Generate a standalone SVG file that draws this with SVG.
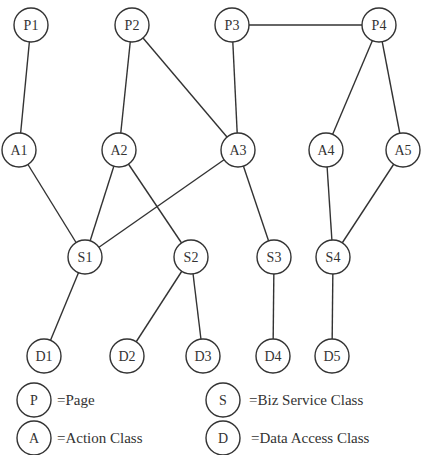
<svg xmlns="http://www.w3.org/2000/svg" width="423" height="455" viewBox="0 0 423 455">
<style>
.n circle{fill:#fff;stroke:#333;stroke-width:1.4}
.n text{font-family:"Liberation Serif",serif;font-size:14px;fill:#333;text-anchor:middle}
.e line{stroke:#333;stroke-width:1.4}
.lg{font-family:"Liberation Serif",serif;font-size:15px;fill:#333}
</style>
<rect width="423" height="455" fill="#fff"/>
<g id="connectors" class="e">
<line x1="31" y1="25" x2="19" y2="150"/>
<line x1="132" y1="25" x2="119" y2="150"/>
<line x1="132" y1="25" x2="238" y2="150"/>
<line x1="232" y1="25" x2="238" y2="150"/>
<line x1="232" y1="25" x2="379" y2="25"/>
<line x1="379" y1="25" x2="326" y2="150"/>
<line x1="379" y1="25" x2="403" y2="150"/>
<line x1="19" y1="150" x2="85" y2="257"/>
<line x1="119" y1="150" x2="85" y2="257"/>
<line x1="238" y1="150" x2="85" y2="257"/>
<line x1="119" y1="150" x2="191" y2="257"/>
<line x1="238" y1="150" x2="274" y2="257"/>
<line x1="326" y1="150" x2="333" y2="257"/>
<line x1="403" y1="150" x2="333" y2="257"/>
<line x1="85" y1="257" x2="44" y2="356"/>
<line x1="191" y1="257" x2="127" y2="356"/>
<line x1="191" y1="257" x2="203" y2="356"/>
<line x1="274" y1="257" x2="273" y2="356"/>
<line x1="333" y1="257" x2="332" y2="356"/>
</g>
<g id="P1" class="n"><circle cx="31" cy="25" r="17"/><text x="31" y="30">P1</text></g>
<g id="P2" class="n"><circle cx="132" cy="25" r="17"/><text x="132" y="30">P2</text></g>
<g id="P3" class="n"><circle cx="232" cy="25" r="17"/><text x="232" y="30">P3</text></g>
<g id="P4" class="n"><circle cx="379" cy="25" r="17"/><text x="379" y="30">P4</text></g>
<g id="A1" class="n"><circle cx="19" cy="150" r="17"/><text x="19" y="155">A1</text></g>
<g id="A2" class="n"><circle cx="119" cy="150" r="17"/><text x="119" y="155">A2</text></g>
<g id="A3" class="n"><circle cx="238" cy="150" r="17"/><text x="238" y="155">A3</text></g>
<g id="A4" class="n"><circle cx="326" cy="150" r="17"/><text x="326" y="155">A4</text></g>
<g id="A5" class="n"><circle cx="403" cy="150" r="17"/><text x="403" y="155">A5</text></g>
<g id="S1" class="n"><circle cx="85" cy="257" r="17"/><text x="85" y="262">S1</text></g>
<g id="S2" class="n"><circle cx="191" cy="257" r="17"/><text x="191" y="262">S2</text></g>
<g id="S3" class="n"><circle cx="274" cy="257" r="17"/><text x="274" y="262">S3</text></g>
<g id="S4" class="n"><circle cx="333" cy="257" r="17"/><text x="333" y="262">S4</text></g>
<g id="D1" class="n"><circle cx="44" cy="356" r="17"/><text x="44" y="361">D1</text></g>
<g id="D2" class="n"><circle cx="127" cy="356" r="17"/><text x="127" y="361">D2</text></g>
<g id="D3" class="n"><circle cx="203" cy="356" r="17"/><text x="203" y="361">D3</text></g>
<g id="D4" class="n"><circle cx="273" cy="356" r="17"/><text x="273" y="361">D4</text></g>
<g id="D5" class="n"><circle cx="332" cy="356" r="17"/><text x="332" y="361">D5</text></g>
<g id="legend-P" class="n"><circle cx="34" cy="400" r="17"/><text x="34" y="405">P</text></g>
<text class="lg" x="57" y="405">=Page</text>
<g id="legend-A" class="n"><circle cx="34" cy="438" r="17"/><text x="34" y="443">A</text></g>
<text class="lg" x="57" y="443">=Action Class</text>
<g id="legend-S" class="n"><circle cx="223" cy="400" r="17"/><text x="223" y="405">S</text></g>
<text class="lg" x="249" y="405">=Biz Service Class</text>
<g id="legend-D" class="n"><circle cx="223" cy="438" r="17"/><text x="223" y="443">D</text></g>
<text class="lg" x="251" y="443">=Data Access Class</text>
</svg>
